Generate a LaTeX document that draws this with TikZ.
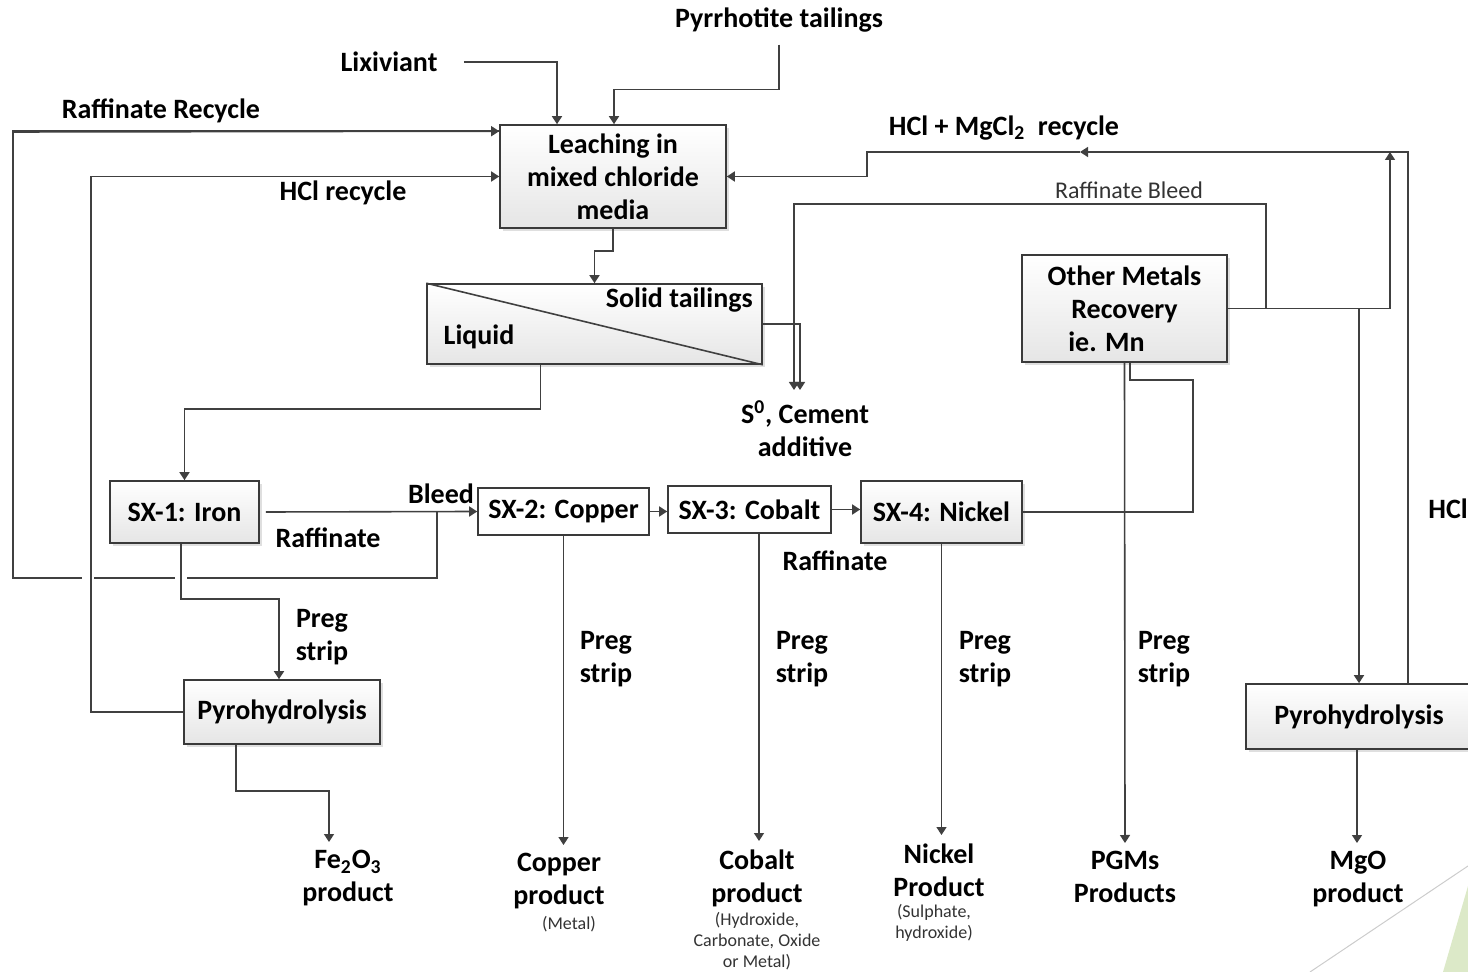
\documentclass[tikz,border=0pt]{standalone}
\usepackage{fontspec}
\setmainfont{Carlito}
\usepackage{xcolor}
\usetikzlibrary{arrows.meta, positioning, shadows}
\definecolor{flowline}{HTML}{404040}
\definecolor{boxedge}{HTML}{3A3A3A}
\definecolor{slidegreen}{HTML}{DCE9C8}
\newcommand{\fsMain}{\fontsize{14}{16.5}\selectfont\bfseries}
\newcommand{\fsMid}{\fontsize{12}{14}\selectfont}
\newcommand{\fsNote}{\fontsize{9}{10.5}\selectfont}

\begin{document}
\begin{tikzpicture}[x=0.5pt, y=-0.5pt,
  unit/.style={draw=boxedge, line width=0.8pt, top color=white, bottom color=gray!20,
    font=\fsMain, align=center, inner sep=0pt,
    drop shadow={opacity=0.25, shadow xshift=1.5pt, shadow yshift=-1.5pt}},
  plainunit/.style={draw=boxedge, line width=0.8pt, fill=white, font=\fsMain, inner sep=0pt},
  lbl/.style={font=\fsMain, align=center, inner sep=0pt},
  product/.style={lbl, inner sep=4pt, anchor=north},
  note/.style={font=\fsNote, align=center, inner sep=0pt, text=black!80},
  flow/.style={draw=flowline, line width=0.8pt},
  arr/.style={flow, -{Triangle[width=5pt,length=4pt]}}]
  \useasboundingbox (0,0) rectangle (1468,972);
  % slide corner
  \fill[slidegreen] (1443,972) -- (1468,886) -- (1468,972) -- cycle;
  \draw[gray!40, line width=0.5pt] (1310,972) -- (1468,866);

  % units
  \node[unit, minimum width=113pt, minimum height=51.5pt] (leach) at (613,176.5)
      {Leaching in\\mixed chloride\\media};
  \node[unit, minimum width=167.5pt, minimum height=40pt] (sep) at (594.5,324) {};
  \draw[flow] (sep.north west) -- (sep.south east);
  \node[lbl, anchor=east] (solid) at (753,300) {Solid tailings};
  \node[lbl] (liquid) at (479,337) {Liquid};
  \node[unit, minimum width=102.5pt, minimum height=53.5pt] (omr) at (1124.5,308.5)
      {Other Metals\\Recovery\\ie. Mn\hphantom{\hspace{18pt}}};
  \node[unit, minimum width=74.5pt, minimum height=31pt] (sx1) at (184.5,512) {SX-1: Iron};
  \node[plainunit, minimum width=85.5pt, minimum height=23.5pt] (sx2) at (563.5,511.5) {SX-2: Copper};
  \node[plainunit, minimum width=81.5pt, minimum height=23.5pt] (sx3) at (749.5,509.5) {SX-3: Cobalt};
  \node[unit, minimum width=80.5pt, minimum height=31pt] (sx4) at (941.5,512) {SX-4: Nickel};
  \node[unit, minimum width=98pt, minimum height=32pt] (pyro1) at (282,712) {Pyrohydrolysis};
  \node[unit, minimum width=113pt, minimum height=32.5pt] (pyro2) at (1359,716.5) {Pyrohydrolysis};

  % feeds and labels
  \node[lbl] (lix) at (389,62) {Lixiviant};
  \node[lbl] (pyr) at (779,20) {Pyrrhotite tailings};
  \node[lbl] (rafrec) at (161,111) {Raffinate Recycle};
  \node[lbl] (hclrec) at (343,193) {HCl recycle};
  \node[lbl] (mgrec) at (1004,128) {HCl + MgCl\textsubscript{2}\ \ recycle};
  \node[font=\fsMid, inner sep=0pt, text=black!80] (rafbleed) at (1129,190) {Raffinate Bleed};
  \node[lbl, inner sep=5pt, anchor=north] (s0) at (805,390) {S\textsuperscript{0}, Cement\\additive};
  \node[lbl] (bleed) at (441,494) {Bleed};
  \node[lbl] (raf1) at (328,538) {Raffinate};
  \node[lbl] (raf4) at (835,561) {Raffinate};
  \node[lbl] (hcl) at (1448,509) {HCl};
  \foreach \px/\py in {322/637, 606/659, 802/659, 985/659, 1164/659}
    \node[lbl] (preg\px) at (\px,\py) {Preg\\strip};

  % products
  \node[product] (fe) at (348,842) {Fe\textsubscript{2}O\textsubscript{3}\\product};
  \node[product] (cu) at (559,845) {Copper\\product};
  \node[note] (cunote) at (569,924) {(Metal)};
  \node[product] (co) at (757,841) {Cobalt\\product};
  \node[note] (conote) at (757,941) {(Hydroxide,\\Carbonate, Oxide\\or Metal)};
  \node[product] (ni) at (939,835) {Nickel\\Product};
  \node[note] (ninote) at (934,923) {(Sulphate,\\hydroxide)};
  \node[product] (pgm) at (1125,843) {PGMs\\Products};
  \node[product] (mgo) at (1358,843) {MgO\\product};

  % leach circuit
  \draw[arr] ([xshift=13pt]lix.east) -| ([xshift=-28pt]leach.north);
  \draw[arr] ([yshift=-6pt]pyr.south) -- ++(0,45) -| ([xshift=0.5pt]leach.north);
  \draw[arr] (leach.south) -- ++(0,22) -| (sep.north);
  \draw[arr] ([xshift=-27pt]sep.south) -- ++(0,44) -| (sx1.north);
  \draw[arr] (sep.east) -| ([xshift=-2.5pt]s0.north);
  \coordinate (bleedup) at (1266,308.5);
  \draw[arr] (bleedup) |- ([xshift=-5.5pt]s0.north |- 0,204) -- ([xshift=-5.5pt]s0.north);

  % SX train
  \coordinate (bleedjn) at (437,512);
  \draw[arr] ([xshift=3pt]sx1.east) -- (sx2.west);
  \draw[arr] (sx2.east) -- (sx2.east -| sx3.west);
  \draw[arr] (sx3.east) -- (sx3.east -| sx4.west);
  \draw[flow] (bleedjn) |- (13,578) |- ([yshift=-3.5pt]leach.north west);
  \draw[-{Triangle[width=5pt,length=4pt]}, flowline, line width=0.8pt]
    (13,132) -- ([yshift=-3.5pt]leach.north west);
  \draw[white, line width=6pt] (88,574) -- (88,582);
  \draw[white, line width=6pt] (181,574) -- (181,582);
  \draw[arr] (pyro1.west) -| ([xshift=-204pt]leach.west) -- (leach.west);
  \draw[arr] ([xshift=-1.75pt]sx1.south) -- ++(0,55) -| ([xshift=-1.5pt]pyro1.north);
  \draw[arr] ([xshift=-23pt]pyro1.south) -- ++(0,46) -| ([xshift=-9.5pt]fe.north);
  \draw[arr] (sx2.south) -- (sx2.south |- cu.north);
  \draw[arr] ([xshift=4.75pt]sx3.south) -- ([xshift=4.75pt]sx3.south |- co.north);
  \draw[arr] (sx4.south) -- (sx4.south |- ni.north);

  % other metals and Mg loop
  \draw[flow] (sx4.east) -| (1193,380) -| ([xshift=2.75pt]omr.south);
  \draw[arr] (omr.south) -- (pgm.north);
  \draw[arr] (omr.east) -| (1390,152);
  \draw[arr] (omr.east -| pyro2.north) -- (pyro2.north);
  \coordinate (hclmid) at (1080,152);
  \coordinate (hclstep) at (867,152);
  \draw[arr] ([xshift=24.5pt]pyro2.north) |- (hclmid);
  \draw[arr] (hclmid) -- (hclstep) |- (leach.east);
  \draw[arr] ([xshift=-1pt]pyro2.south) -- ([xshift=-1pt]pyro2.south |- mgo.north);
\end{tikzpicture}
\end{document}
